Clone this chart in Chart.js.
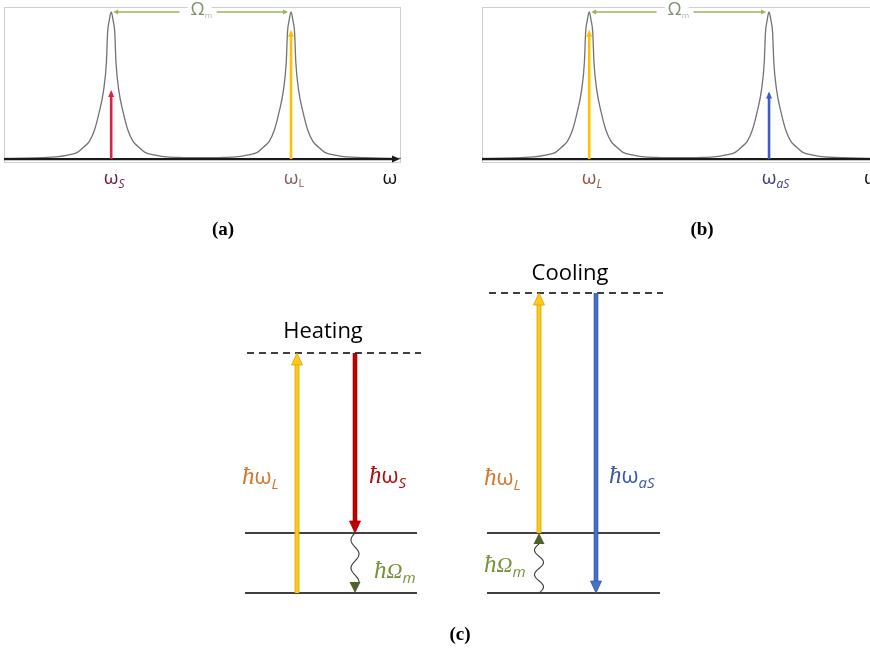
<!DOCTYPE html>
<html>
<head>
<meta charset="utf-8">
<script src="https://cdn.jsdelivr.net/npm/chart.js@4/dist/chart.umd.min.js"></script>
<style>
  body { margin: 0; background: #fff; width: 870px; height: 649px; overflow: hidden; position: relative; }
  canvas { position: absolute; }
  #spectrumA { left: 0; top: 0; }
  #spectrumB { left: 470px; top: 0; }
  #levels { left: 0; top: 245px; }
</style>
</head>
<body>
<canvas id="spectrumA" width="420" height="245"></canvas>
<canvas id="spectrumB" width="400" height="245"></canvas>
<canvas id="levels" width="870" height="404"></canvas>
<script>
// cavity spectrum (a) and (b): frequency (arb. units) vs normalised intensity
const omega = [0.0, 0.5, 1.0, 1.3, 1.6, 1.85, 2.01, 2.15, 2.28, 2.40, 2.51, 2.58, 2.61, 2.65, 2.70,
               2.75, 2.79, 2.82, 2.89, 3.00, 3.12, 3.25, 3.39, 3.55, 3.81, 4.10, 4.50, 4.97, 5.43, 5.83,
               6.12, 6.38, 6.54, 6.68, 6.81, 6.93, 7.04, 7.11, 7.14, 7.18, 7.23, 7.28, 7.32, 7.35, 7.42,
               7.53, 7.65, 7.78, 7.92, 8.08, 8.34, 8.63, 9.03, 9.50, 10.0];
const intensity = [0.004, 0.006, 0.010, 0.014, 0.027, 0.045, 0.082, 0.12, 0.197, 0.32, 0.47, 0.66, 0.86, 0.94, 1.0,
                   0.94, 0.86, 0.66, 0.47, 0.32, 0.197, 0.12, 0.082, 0.045, 0.027, 0.014, 0.010, 0.009, 0.010, 0.014,
                   0.027, 0.045, 0.082, 0.12, 0.197, 0.32, 0.47, 0.66, 0.86, 0.94, 1.0, 0.94, 0.86, 0.66, 0.47,
                   0.32, 0.197, 0.12, 0.082, 0.045, 0.027, 0.014, 0.010, 0.006, 0.004];
// the two cavity modes and the arrow heights drawn on them
const modeFreqs = [2.70, 7.23];
const heightsA = [0.47, 0.88];   // (a) Stokes, laser
const heightsB = [0.88, 0.46];   // (b) laser, anti-Stokes

// energy levels of panel (c), in units of ħΩm
const phononLevels = [0, 1];
const laserEnergy = 4;
const heatingVirtual = phononLevels[0] + laserEnergy;
const coolingVirtual = phononLevels[1] + laserEnergy;

const panelTitles = ['(a)', '(b)', '(c)'];

const SANS = '"Open Sans"';
const SERIF = '"Liberation Serif"';

function richText(ctx, x, y, parts, align) {
  let total = 0;
  const widths = parts.map(p => { ctx.font = p.font; const w = ctx.measureText(p.text).width; total += w; return w; });
  let cx = x;
  if (align === 'center') cx = x - total / 2;
  else if (align === 'first') cx = x - widths[0] / 2;
  ctx.textBaseline = 'alphabetic';
  ctx.textAlign = 'left';
  parts.forEach((p, i) => {
    ctx.font = p.font;
    ctx.fillStyle = p.color;
    ctx.fillText(p.text, cx, y + (p.dy || 0));
    cx += widths[i];
  });
}

// arrows: shaft and head drawn from the dataset's own pixel positions
const arrowPlugin = {
  id: 'arrows',
  afterDatasetsDraw(chart) {
    const ctx = chart.ctx;
    chart.data.datasets.forEach((ds, i) => {
      if (!ds.arrow) return;
      const pts = chart.getDatasetMeta(i).data;
      const a = pts[0], b = pts[pts.length - 1];
      const st = ds.arrow;
      const dx = b.x - a.x, dy = b.y - a.y;
      const L = Math.hypot(dx, dy), ux = dx / L, uy = dy / L;
      const bx = b.x - ux * st.len, by = b.y - uy * st.len;
      ctx.save();
      ctx.lineCap = 'butt';
      if (st.wavy) {
        ctx.strokeStyle = st.color;
        ctx.lineWidth = st.width;
        ctx.beginPath();
        const n = 60, len = L - st.len;
        for (let k = 0; k <= n; k++) {
          const t = k / n;
          const off = st.amp * Math.sin(2 * Math.PI * st.cycles * t);
          const px = a.x + ux * len * t - uy * off;
          const py = a.y + uy * len * t + ux * off;
          if (k === 0) ctx.moveTo(px, py); else ctx.lineTo(px, py);
        }
        ctx.stroke();
      } else {
        if (st.edge) {
          ctx.strokeStyle = st.edge;
          ctx.lineWidth = st.width + 1.6;
          ctx.beginPath(); ctx.moveTo(a.x, a.y); ctx.lineTo(bx + ux, by + uy); ctx.stroke();
        }
        ctx.strokeStyle = st.color;
        ctx.lineWidth = st.width;
        ctx.beginPath(); ctx.moveTo(a.x, a.y); ctx.lineTo(bx + ux, by + uy); ctx.stroke();
      }
      ctx.fillStyle = st.headColor || st.color;
      ctx.beginPath();
      ctx.moveTo(b.x, b.y);
      ctx.lineTo(bx - uy * st.head / 2, by + ux * st.head / 2);
      ctx.lineTo(bx + uy * st.head / 2, by - ux * st.head / 2);
      ctx.closePath();
      ctx.fill();
      if (st.edge) { ctx.strokeStyle = st.edge; ctx.lineWidth = 0.8; ctx.stroke(); }
      ctx.restore();
    });
  }
};

function spectrumChart(id, cfg) {
  const decor = {
    id: 'decor',
    beforeDatasetsDraw(chart) {
      const { ctx, chartArea: ca } = chart;
      ctx.save();
      ctx.strokeStyle = '#cfcfcf';
      ctx.lineWidth = 1;
      ctx.strokeRect(ca.left + 0.5, ca.top + 0.5, (cfg.openRight ? ca.width + 10 : ca.width - 1), ca.height - 1);
      ctx.restore();
    },
    afterDatasetsDraw(chart) {
      const { ctx, chartArea: ca, scales } = chart;
      const x = scales.x, y = scales.y;
      const y0 = y.getPixelForValue(0);
      ctx.save();
      // frequency axis
      ctx.strokeStyle = '#1a1a1a';
      ctx.lineWidth = 2.2;
      const xEnd = cfg.openRight ? ca.right + 2 : ca.right - 8;
      ctx.beginPath(); ctx.moveTo(ca.left, y0); ctx.lineTo(xEnd, y0); ctx.stroke();
      if (!cfg.openRight) {
        ctx.fillStyle = '#1a1a1a';
        ctx.beginPath(); ctx.moveTo(ca.right - 1, y0); ctx.lineTo(ca.right - 9, y0 - 3.5); ctx.lineTo(ca.right - 9, y0 + 3.5); ctx.closePath(); ctx.fill();
      }
      // Ωm spacing between the two modes
      const p1 = x.getPixelForValue(modeFreqs[0]) + 2, p2 = x.getPixelForValue(modeFreqs[1]) - 3;
      const yb = y.getPixelForValue(1.0);
      const mid = (p1 + p2) / 2 + cfg.omegaShift;
      ctx.strokeStyle = '#9cb35e';
      ctx.lineWidth = 1.4;
      ctx.beginPath(); ctx.moveTo(p1 + 3, yb); ctx.lineTo(mid - 20, yb); ctx.moveTo(mid + 17, yb); ctx.lineTo(p2 - 3, yb); ctx.stroke();
      ctx.fillStyle = '#9cb35e';
      ctx.beginPath(); ctx.moveTo(p1, yb); ctx.lineTo(p1 + 5, yb - 2.5); ctx.lineTo(p1 + 5, yb + 2.5); ctx.closePath(); ctx.fill();
      ctx.beginPath(); ctx.moveTo(p2, yb); ctx.lineTo(p2 - 5, yb - 2.5); ctx.lineTo(p2 - 5, yb + 2.5); ctx.closePath(); ctx.fill();
      ctx.fillStyle = '#fff';
      ctx.fillRect(mid - 12, ca.top - 1, 24, 10);
      richText(ctx, mid - 2, yb + 3, [
        { text: 'Ω', font: '18px ' + SANS, color: '#7f8e72' },
        { text: 'm', font: '8px ' + SANS, color: '#a8b2a0', dy: 3 }
      ], 'first');
      // frequency labels under the axis
      cfg.labels.forEach(l => {
        richText(ctx, x.getPixelForValue(l.at), y0 + 25, l.parts, l.align || 'first');
      });
      // panel title
      ctx.font = 'bold 19px ' + SERIF;
      ctx.fillStyle = '#000';
      ctx.textAlign = 'center';
      ctx.fillText(cfg.title, cfg.titleX, 235);
      ctx.restore();
    }
  };
  return new Chart(document.getElementById(id), {
    type: 'line',
    data: {
      datasets: [
        {
          data: omega.map((w, i) => ({ x: w, y: intensity[i] })),
          borderColor: '#737373', borderWidth: 1.3, pointRadius: 0,
          cubicInterpolationMode: 'monotone'
        },
        ...cfg.arrows.map((a, i) => ({
          data: [{ x: modeFreqs[i], y: 0 }, { x: modeFreqs[i], y: a.height }],
          showLine: false, pointRadius: 0,
          arrow: { color: a.color, width: 2.6, len: 7, head: 6 }
        }))
      ]
    },
    options: {
      responsive: false,
      animation: false,
      layout: { padding: cfg.padding },
      plugins: { legend: { display: false }, tooltip: { enabled: false } },
      scales: {
        x: { type: 'linear', min: 0, max: cfg.xMax, display: false },
        y: { type: 'linear', min: -0.027, max: 1.034, display: false }
      }
    },
    plugins: [decor, arrowPlugin]
  });
}

const wFont = '19px ' + SANS;
const subFont = 'italic 12px ' + SANS;

spectrumChart('spectrumA', {
  padding: { left: 4, right: 19, top: 7, bottom: 82 },
  xMax: 10,
  openRight: false,
  omegaShift: -1,
  title: panelTitles[0], titleX: 223,
  arrows: [
    { height: heightsA[0], color: '#d9243f' },
    { height: heightsA[1], color: '#ffc000' }
  ],
  labels: [
    { at: modeFreqs[0], parts: [{ text: 'ω', font: wFont, color: '#6b1a3c' }, { text: 'S', font: subFont, color: '#6b1a3c', dy: 4 }] },
    { at: modeFreqs[1], parts: [{ text: 'ω', font: wFont, color: '#80605a' }, { text: 'L', font: '11px ' + SANS, color: '#80605a', dy: 3 }] },
    { at: 9.72, parts: [{ text: 'ω', font: wFont, color: '#111' }] }
  ]
});

spectrumChart('spectrumB', {
  padding: { left: 12, right: 0, top: 7, bottom: 82 },
  xMax: 9.773,
  openRight: true,
  omegaShift: -2,
  title: panelTitles[1], titleX: 232,
  arrows: [
    { height: heightsB[0], color: '#ffc000' },
    { height: heightsB[1], color: '#3f5bc4' }
  ],
  labels: [
    { at: modeFreqs[0], parts: [{ text: 'ω', font: wFont, color: '#8b5a42' }, { text: 'L', font: subFont, color: '#8b5a42', dy: 4 }] },
    { at: modeFreqs[1], parts: [{ text: 'ω', font: wFont, color: '#3c3c80' }, { text: 'aS', font: subFont, color: '#3c3c80', dy: 4 }] },
    { at: 9.62, parts: [{ text: 'ω', font: wFont, color: '#111' }], align: 'left' }
  ]
});

// ---- panel (c): energy level schemes ----
const hbar = (c) => ({ text: 'ħ', font: 'italic 25px ' + SERIF, color: c });
const omg = (c) => ({ text: 'ω', font: '22px ' + SANS, color: c });
const OMG = (c) => ({ text: 'Ω', font: 'italic 22px ' + SERIF, color: c });
const sub = (t, c) => ({ text: t, font: 'italic 15px ' + SANS, color: c, dy: 5 });

const ORANGE = '#d4782f', RED = '#b00d10', GREEN = '#76923c', BLUE = '#3c5aa0';

const levelTexts = [
  { x: 32.3, y: heatingVirtual + 0.25, align: 'center', parts: [{ text: 'Heating', font: '22px ' + SANS, color: '#000' }] },
  { x: 57.0, y: coolingVirtual + 0.22, align: 'center', parts: [{ text: 'Cooling', font: '22px ' + SANS, color: '#000' }] },
  { x: 24.2, y: 1.82, parts: [hbar(ORANGE), omg(ORANGE), sub('L', ORANGE)] },
  { x: 36.9, y: 1.83, parts: [hbar(RED), omg(RED), sub('S', RED)] },
  { x: 37.4, y: 0.25, parts: [hbar(GREEN), OMG(GREEN), sub('m', GREEN)] },
  { x: 48.4, y: 1.80, parts: [hbar(ORANGE), omg(ORANGE), sub('L', ORANGE)] },
  { x: 60.9, y: 1.83, parts: [hbar(BLUE), omg(BLUE), sub('aS', BLUE)] },
  { x: 48.4, y: 0.35, parts: [hbar(GREEN), OMG(GREEN), sub('m', GREEN)] }
];

function seg(x1, x2, e, dashed) {
  return {
    data: [{ x: x1, y: e }, { x: x2, y: e }],
    borderColor: '#000', borderWidth: dashed ? 1.3 : 1.5,
    borderDash: dashed ? [7, 5] : [], pointRadius: 0
  };
}
function arrow(x, from, to, style) {
  return { data: [{ x: x, y: from }, { x: x, y: to }], showLine: false, pointRadius: 0, arrow: style };
}
const yellowStyle = { color: '#ffc91a', edge: '#d9a300', width: 3.2, len: 12, head: 11 };
const phonon = (amp, cycles) => ({ wavy: true, color: '#3a3a3a', headColor: '#4f6228', width: 1.1, len: 11, head: 11, amp, cycles });

const levelText = {
  id: 'levelText',
  afterDatasetsDraw(chart) {
    const { ctx, scales } = chart;
    ctx.save();
    levelTexts.forEach(t => richText(ctx, scales.x.getPixelForValue(t.x), scales.y.getPixelForValue(t.y), t.parts, t.align));
    ctx.font = 'bold 19px ' + SERIF;
    ctx.fillStyle = '#000';
    ctx.textAlign = 'center';
    ctx.fillText(panelTitles[2], 460, 395);
    ctx.restore();
  }
};

new Chart(document.getElementById('levels'), {
  type: 'line',
  data: {
    datasets: [
      // heating scheme
      seg(24.7, 42.1, heatingVirtual, true),
      seg(24.5, 41.7, phononLevels[1]),
      seg(24.5, 41.7, phononLevels[0]),
      arrow(29.7, phononLevels[0], heatingVirtual, yellowStyle),
      arrow(35.5, heatingVirtual, phononLevels[1], { color: '#c00000', edge: '#a00000', width: 3, len: 12, head: 11 }),
      arrow(35.5, phononLevels[1], phononLevels[0], phonon(4, 1.75)),
      // cooling scheme
      seg(48.9, 66.3, coolingVirtual, true),
      seg(48.7, 66.0, phononLevels[1]),
      seg(48.7, 66.0, phononLevels[0]),
      arrow(53.9, phononLevels[1], coolingVirtual, yellowStyle),
      arrow(59.6, coolingVirtual, phononLevels[0], { color: '#4472c4', edge: '#3358a8', width: 3, len: 12, head: 11 }),
      arrow(53.9, phononLevels[0], phononLevels[1], phonon(4.5, 2))
    ]
  },
  options: {
    responsive: false,
    animation: false,
    layout: { padding: 0 },
    plugins: { legend: { display: false }, tooltip: { enabled: false } },
    scales: {
      x: { type: 'linear', min: 0, max: 87, display: false },
      y: { type: 'linear', min: -0.9333, max: 5.8, display: false }
    }
  },
  plugins: [arrowPlugin, levelText]
});
</script>
</body>
</html>
